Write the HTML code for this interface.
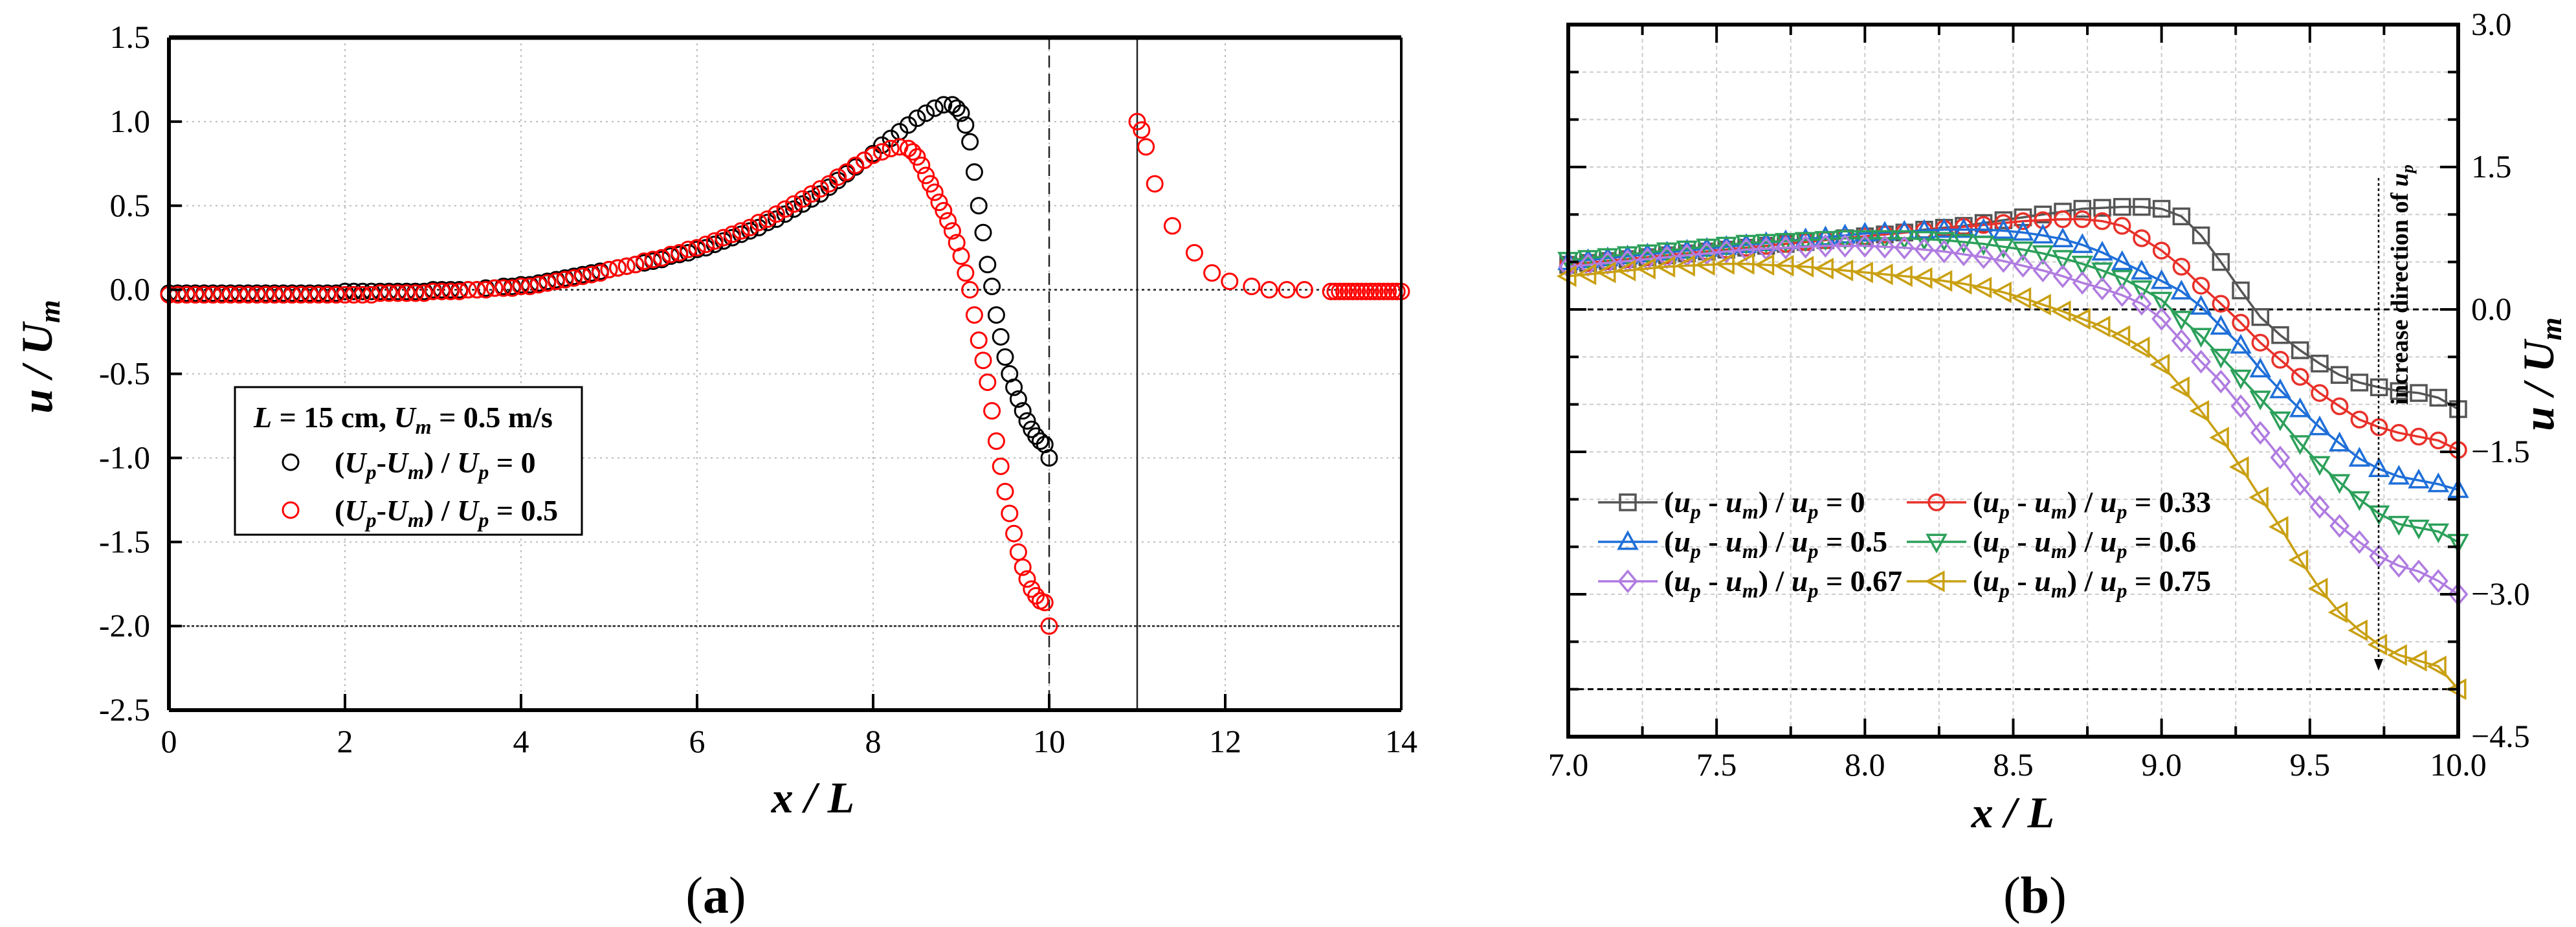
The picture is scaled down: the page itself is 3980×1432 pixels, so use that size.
<!DOCTYPE html>
<html><head><meta charset="utf-8"><style>
html,body{margin:0;padding:0;background:#fff;}
svg{display:block;font-family:"Liberation Serif",serif;}
</style></head><body>
<svg id="fig" width="3980" height="1432" viewBox="0 0 3980 1432" xmlns="http://www.w3.org/2000/svg">
<g id="pa"></g>
<g id="pb"></g>
</svg>
<script>
// ---------- Panel (a) data ----------
const aBlackX=[0,0.1,0.2,0.3,0.4,0.5,0.6,0.7,0.8,0.9,1,1.1,1.2,1.3,1.4,1.5,1.6,1.7,1.8,1.9,2,2.1,2.2,2.3,2.4,2.5,2.6,2.7,2.8,2.9,3,3.1,3.2,3.3,3.4,3.5,3.6,3.7,3.8,3.9,4,4.1,4.2,4.3,4.4,4.5,4.6,4.7,4.8,4.9,5,5.1,5.2,5.3,5.4,5.5,5.6,5.7,5.8,5.9,6,6.1,6.2,6.3,6.4,6.5,6.6,6.7,6.8,6.9,7,7.1,7.2,7.3,7.4,7.5,7.6,7.7,7.8,7.9,8,8.1,8.2,8.3,8.4,8.5,8.6,8.7,8.8,8.9,8.95,9,9.05,9.1,9.15,9.2,9.25,9.3,9.35,9.4,9.45,9.5,9.55,9.6,9.65,9.7,9.75,9.8,9.85,9.9,9.95,10];
const aBlackY=[-0.02,-0.02,-0.02,-0.02,-0.02,-0.02,-0.02,-0.02,-0.02,-0.02,-0.02,-0.02,-0.02,-0.02,-0.02,-0.02,-0.02,-0.02,-0.02,-0.02,-0.01,-0.01,-0.01,-0.01,-0.01,-0.01,-0.01,-0.01,-0.01,-0.01,0,0,0,0,0,0,0.01,0.01,0.02,0.02,0.03,0.03,0.04,0.05,0.06,0.07,0.08,0.09,0.1,0.11,0.12,0.13,0.14,0.15,0.16,0.17,0.18,0.2,0.21,0.22,0.24,0.25,0.27,0.29,0.31,0.33,0.35,0.37,0.4,0.42,0.45,0.48,0.51,0.54,0.57,0.61,0.65,0.69,0.73,0.77,0.81,0.86,0.9,0.94,0.98,1.02,1.05,1.08,1.1,1.1,1.08,1.05,0.98,0.88,0.7,0.5,0.34,0.15,0.02,-0.15,-0.28,-0.4,-0.5,-0.58,-0.65,-0.72,-0.78,-0.83,-0.87,-0.9,-0.92,-1.0];
const aRedX=[0,0.1,0.2,0.3,0.4,0.5,0.6,0.7,0.8,0.9,1,1.1,1.2,1.3,1.4,1.5,1.6,1.7,1.8,1.9,2,2.1,2.2,2.3,2.4,2.5,2.6,2.7,2.8,2.9,3,3.1,3.2,3.3,3.4,3.5,3.6,3.7,3.8,3.9,4,4.1,4.2,4.3,4.4,4.5,4.6,4.7,4.8,4.9,5,5.1,5.2,5.3,5.4,5.5,5.6,5.7,5.8,5.9,6,6.1,6.2,6.3,6.4,6.5,6.6,6.7,6.8,6.9,7,7.1,7.2,7.3,7.4,7.5,7.6,7.7,7.8,7.9,8,8.1,8.2,8.3,8.4,8.45,8.5,8.55,8.6,8.65,8.7,8.75,8.8,8.85,8.9,8.95,9,9.05,9.1,9.15,9.2,9.25,9.3,9.35,9.4,9.45,9.5,9.55,9.6,9.65,9.7,9.75,9.8,9.85,9.9,9.95,10,11,11.05,11.1,11.2,11.4,11.65,11.85,12.05,12.3,12.5,12.7,12.9,13.2,13.25,13.3,13.35,13.4,13.45,13.5,13.55,13.6,13.65,13.7,13.75,13.8,13.85,13.9,13.95,14];
const aRedY=[-0.03,-0.03,-0.03,-0.03,-0.03,-0.03,-0.03,-0.03,-0.03,-0.03,-0.03,-0.03,-0.03,-0.03,-0.03,-0.03,-0.03,-0.03,-0.03,-0.03,-0.03,-0.03,-0.03,-0.03,-0.02,-0.02,-0.02,-0.02,-0.02,-0.02,-0.01,-0.01,-0.01,-0.01,0,0,0,0.01,0.01,0.01,0.02,0.02,0.03,0.04,0.05,0.06,0.07,0.08,0.09,0.1,0.12,0.13,0.14,0.15,0.17,0.18,0.19,0.21,0.22,0.24,0.25,0.27,0.29,0.31,0.33,0.35,0.37,0.4,0.42,0.45,0.48,0.51,0.54,0.57,0.6,0.63,0.67,0.7,0.74,0.77,0.8,0.82,0.84,0.85,0.84,0.82,0.79,0.74,0.68,0.63,0.58,0.52,0.47,0.41,0.35,0.28,0.2,0.1,0.0,-0.15,-0.3,-0.42,-0.55,-0.72,-0.9,-1.05,-1.2,-1.33,-1.45,-1.56,-1.65,-1.72,-1.78,-1.82,-1.85,-1.86,-2.0,1.0,0.95,0.85,0.63,0.38,0.22,0.1,0.05,0.02,0.0,0.0,0.0,-0.01,-0.01,-0.01,-0.01,-0.01,-0.01,-0.01,-0.01,-0.01,-0.01,-0.01,-0.01,-0.01,-0.01,-0.01,-0.01,-0.01];
const aXTicks=[0,2,4,6,8,10,12,14];
const aXTickLabels=["0","2","4","6","8","10","12","14"];
const aYTicks=[1.5,1.0,0.5,0.0,-0.5,-1.0,-1.5,-2.0,-2.5];
const aYTickLabels=["1.5","1.0","0.5","0.0","-0.5","-1.0","-1.5","-2.0","-2.5"];

// ---------- Panel (b) data ----------
const bX=[7,7.067,7.133,7.2,7.267,7.333,7.4,7.467,7.533,7.6,7.667,7.733,7.8,7.867,7.933,8,8.067,8.133,8.2,8.267,8.333,8.4,8.467,8.533,8.6,8.667,8.733,8.8,8.867,8.933,9,9.067,9.133,9.2,9.267,9.333,9.4,9.467,9.533,9.6,9.667,9.733,9.8,9.867,9.933,10];
const bS0=[0.47,0.49,0.51,0.53,0.55,0.57,0.59,0.61,0.63,0.65,0.67,0.69,0.71,0.73,0.75,0.77,0.79,0.81,0.84,0.86,0.88,0.91,0.94,0.97,1.0,1.03,1.06,1.07,1.08,1.08,1.06,0.98,0.78,0.5,0.2,-0.08,-0.27,-0.43,-0.57,-0.69,-0.77,-0.82,-0.86,-0.88,-0.93,-1.05];
const bS1=[0.47,0.49,0.51,0.53,0.55,0.57,0.59,0.61,0.63,0.65,0.67,0.69,0.71,0.73,0.75,0.77,0.79,0.81,0.83,0.85,0.87,0.89,0.91,0.93,0.94,0.95,0.95,0.93,0.88,0.75,0.62,0.45,0.25,0.06,-0.14,-0.35,-0.53,-0.71,-0.88,-1.02,-1.16,-1.24,-1.3,-1.34,-1.38,-1.48];
const bS2=[0.5,0.52,0.54,0.56,0.58,0.6,0.62,0.64,0.66,0.68,0.7,0.72,0.74,0.76,0.78,0.8,0.81,0.82,0.83,0.84,0.84,0.84,0.83,0.81,0.78,0.74,0.68,0.6,0.5,0.4,0.3,0.19,0.03,-0.18,-0.38,-0.63,-0.85,-1.05,-1.24,-1.41,-1.57,-1.68,-1.76,-1.8,-1.84,-1.9];
const bS3=[0.52,0.54,0.56,0.58,0.6,0.62,0.64,0.66,0.68,0.7,0.71,0.72,0.73,0.74,0.75,0.75,0.75,0.75,0.74,0.73,0.71,0.69,0.66,0.63,0.59,0.54,0.48,0.41,0.33,0.22,0.1,-0.1,-0.28,-0.5,-0.72,-0.94,-1.16,-1.41,-1.63,-1.82,-2.0,-2.15,-2.26,-2.3,-2.34,-2.45];
const bS4=[0.45,0.47,0.49,0.51,0.53,0.55,0.57,0.59,0.61,0.63,0.64,0.65,0.66,0.67,0.67,0.67,0.66,0.65,0.63,0.61,0.58,0.55,0.51,0.46,0.41,0.35,0.28,0.22,0.15,0.06,-0.1,-0.33,-0.55,-0.76,-1.02,-1.3,-1.56,-1.84,-2.08,-2.28,-2.45,-2.6,-2.7,-2.76,-2.86,-3.0];
const bS5=[0.35,0.37,0.39,0.41,0.43,0.45,0.46,0.47,0.48,0.48,0.47,0.46,0.45,0.43,0.41,0.39,0.37,0.35,0.33,0.3,0.27,0.23,0.18,0.12,0.05,-0.02,-0.1,-0.18,-0.28,-0.4,-0.58,-0.82,-1.07,-1.35,-1.66,-1.98,-2.29,-2.64,-2.94,-3.19,-3.38,-3.53,-3.64,-3.7,-3.76,-4.0];
const bRatios=["0","0.33","0.5","0.6","0.67","0.75"];
const bXTicks=[7.0,7.5,8.0,8.5,9.0,9.5,10.0];
const bXTickLabels=["7.0","7.5","8.0","8.5","9.0","9.5","10.0"];
const bYTicks=[3.0,1.5,0.0,-1.5,-3.0,-4.5];
const bYTickLabels=["3.0","1.5","0.0","\u22121.5","\u22123.0","\u22124.5"];

const NS="http://www.w3.org/2000/svg";
function mk(parent,tag,attrs){const e=document.createElementNS(NS,tag);for(const k in attrs)e.setAttribute(k,attrs[k]);parent.appendChild(e);return e;}

// ---------- Panel (a) ----------
const pa=document.getElementById('pa');
const aL=261,aR=2165,aT=58,aB=1097;
const ax=v=>aL+(v-0)/14*(aR-aL);
const ay=v=>aT+(1.5-v)/4*(aB-aT);
// grid
aXTicks.forEach(t=>{if(t>0&&t<14){const g=mk(pa,'line',{x1:ax(t),x2:ax(t),y1:aT,y2:aB,stroke:'#bbb','stroke-width':2,'stroke-dasharray':'3 6'});

}});
aYTicks.forEach(t=>{if(t<1.5&&t>-2.5){const g=mk(pa,'line',{x1:aL,x2:aR,y1:ay(t),y2:ay(t),stroke:'#bbb','stroke-width':2,'stroke-dasharray':'3 6'});

}});
// reference lines
[[0,'4 5'],[-2,'4 3']].forEach(r=>{const l=mk(pa,'line',{x1:aL,x2:aR,y1:ay(r[0]),y2:ay(r[0]),stroke:'#222','stroke-width':2.5,'stroke-dasharray':r[1]});

});
let vl=mk(pa,'line',{x1:ax(10),x2:ax(10),y1:aT,y2:aB,stroke:'#222','stroke-width':2.5,'stroke-dasharray':'18 10'});


let vs=mk(pa,'line',{x1:ax(11),x2:ax(11),y1:aT,y2:aB,stroke:'#222','stroke-width':2.5});


// series
function circles(xs,ys,col,name){const g=mk(pa,'g',{});


xs.forEach((x,i)=>{const c=mk(g,'circle',{cx:ax(x),cy:ay(ys[i]),r:12,fill:'none',stroke:col,'stroke-width':3});

});}
circles(aBlackX,aBlackY,'#000','series-black-0');
circles(aRedX,aRedY,'#f00','series-red-0-5');
// axes frame
mk(pa,'line',{x1:aL,x2:aR,y1:aT,y2:aT,stroke:'#000','stroke-width':7});
mk(pa,'line',{x1:aR,x2:aR,y1:aT,y2:aB,stroke:'#000','stroke-width':4});
mk(pa,'line',{x1:aL,x2:aR,y1:aB,y2:aB,stroke:'#000','stroke-width':6});
mk(pa,'line',{x1:aL,x2:aL,y1:aT,y2:aB,stroke:'#000','stroke-width':6});
aXTicks.forEach((t,i)=>{mk(pa,'line',{x1:ax(t),x2:ax(t),y1:aB,y2:aB-25,stroke:'#000','stroke-width':4});
const tx=mk(pa,'text',{x:ax(t),y:1162,'font-size':50,'text-anchor':'middle'});tx.textContent=aXTickLabels[i];

});
aYTicks.forEach((t,i)=>{mk(pa,'line',{x1:aL,x2:aL+20,y1:ay(t),y2:ay(t),stroke:'#000','stroke-width':4});
const tx=mk(pa,'text',{x:232,y:ay(t)+16,'font-size':50,'text-anchor':'end'});tx.textContent=aYTickLabels[i];

});
</script>
<script>
// ---------- Panel (b) ----------
const pb=document.getElementById('pb');
const bL=2423,bR=3798,bT=38,bB=1138;
const bx=v=>bL+(v-7)/3*(bR-bL);
const by=v=>bT+(3-v)/7.5*(bB-bT);
for(let k=1;k<12;k++){const v=7+k*0.25;const g=mk(pb,'line',{x1:bx(v),x2:bx(v),y1:bT,y2:bB,stroke:'#ccc','stroke-width':2,'stroke-dasharray':'6 5'});

}
for(let k=1;k<15;k++){const v=3-k*0.5;const g=mk(pb,'line',{x1:bL,x2:bR,y1:by(v),y2:by(v),stroke:'#ccc','stroke-width':2,'stroke-dasharray':'6 5'});

}
[0,-4].forEach(v=>{const l=mk(pb,'line',{x1:bL,x2:bR,y1:by(v),y2:by(v),stroke:'#000','stroke-width':3,'stroke-dasharray':'9 6'});

});
const colors=['#555555','#e8312a','#1f6fd8','#2ca05a','#b07ce0','#c9a012'];
const shapes=['square','circle','up','down','diamond','left'];
const allS=[bS0,bS1,bS2,bS3,bS4,bS5];
function marker(g,shape,cx,cy,col){const s=12;let e;
if(shape==='square')e=mk(g,'rect',{x:cx-s,y:cy-s,width:2*s,height:2*s});
else if(shape==='circle')e=mk(g,'circle',{cx:cx,cy:cy,r:s});
else{let p;if(shape==='up')p=[[cx,cy-s*1.2],[cx+s*1.15,cy+s*0.9],[cx-s*1.15,cy+s*0.9]];
else if(shape==='down')p=[[cx,cy+s*1.2],[cx+s*1.15,cy-s*0.9],[cx-s*1.15,cy-s*0.9]];
else if(shape==='diamond')p=[[cx,cy-s*1.3],[cx+s*1.1,cy],[cx,cy+s*1.3],[cx-s*1.1,cy]];
else p=[[cx-s*1.2,cy],[cx+s*0.9,cy-s*1.15],[cx+s*0.9,cy+s*1.15]];
e=mk(g,'polygon',{points:p.map(q=>q.join(',')).join(' ')});}
e.setAttribute('fill','none');e.setAttribute('stroke',col);e.setAttribute('stroke-width',3.5);


return e;}
allS.forEach((s,si)=>{const g=mk(pb,'g',{});


const pl=mk(g,'polyline',{points:bX.map((x,i)=>bx(x)+','+by(s[i])).join(' '),fill:'none',stroke:colors[si],'stroke-width':3.5});


bX.forEach((x,i)=>marker(g,shapes[si],bx(x),by(s[i]),colors[si]));});
// frame
const fr=mk(pb,'rect',{x:bL,y:bT,width:bR-bL,height:bB-bT,fill:'none',stroke:'#000','stroke-width':6});


for(let k=0;k<=12;k++){const v=7+k*0.25,len=k%2===0?28:16;
mk(pb,'line',{x1:bx(v),x2:bx(v),y1:bB,y2:bB-len,stroke:'#000','stroke-width':4});
mk(pb,'line',{x1:bx(v),x2:bx(v),y1:bT,y2:bT+len,stroke:'#000','stroke-width':4});}
for(let k=0;k<=15;k++){const v=3-k*0.5,len=k%3===0?28:16;
mk(pb,'line',{x1:bL,x2:bL+len,y1:by(v),y2:by(v),stroke:'#000','stroke-width':4});
mk(pb,'line',{x1:bR,x2:bR-len,y1:by(v),y2:by(v),stroke:'#000','stroke-width':4});}
bXTicks.forEach((t,i)=>{const tx=mk(pb,'text',{x:bx(t),y:1198,'font-size':50,'text-anchor':'middle'});tx.textContent=bXTickLabels[i];

});
bYTicks.forEach((t,i)=>{const tx=mk(pb,'text',{x:3818,y:by(t)+16,'font-size':50});tx.textContent=bYTickLabels[i];

});
// legend b
const legPos=[[2469,776],[2946,776],[2469,837],[2946,837],[2469,898],[2946,898]];
bRatios.forEach((r,i)=>{const g=mk(pb,'g',{});


const [lx,ly]=legPos[i];
mk(g,'line',{x1:lx,x2:lx+92,y1:ly,y2:ly,stroke:colors[i],'stroke-width':3.5});
marker(g,shapes[i],lx+46,ly,colors[i]);
const t=mk(g,'text',{x:lx+102,y:ly+15,'font-size':46,'font-weight':'bold'});
t.innerHTML='(<tspan font-style="italic">u</tspan><tspan font-size="32" dy="10" font-style="italic">p</tspan><tspan dy="-10"> - </tspan><tspan font-style="italic">u</tspan><tspan font-size="32" dy="10" font-style="italic">m</tspan><tspan dy="-10">) / </tspan><tspan font-style="italic">u</tspan><tspan font-size="32" dy="10" font-style="italic">p</tspan><tspan dy="-10"> = '+r+'</tspan>';});
</script>
<svg style="position:absolute;left:0;top:0" width="3980" height="1432" viewBox="0 0 3980 1432" xmlns="http://www.w3.org/2000/svg" font-family="Liberation Serif, serif">
  <!-- panel a labels -->
  <text x="80" y="551" font-size="68" font-weight="bold" font-style="italic" text-anchor="middle" transform="rotate(-90 80 551)">u / U<tspan font-size="46" dy="12">m</tspan></text>
  <text x="1256" y="1255" font-size="68" font-weight="bold" font-style="italic" text-anchor="middle">x / L</text>
  <text x="1106" y="1410" font-size="80" text-anchor="middle">(<tspan font-weight="bold">a</tspan>)</text>
  <g>
    <rect x="363" y="598" width="536" height="228" fill="#fff" stroke="#000" stroke-width="3"/>
    <text x="392" y="660" font-size="46" font-weight="bold"><tspan font-style="italic">L</tspan> = 15 cm, <tspan font-style="italic">U</tspan><tspan font-size="32" dy="10" font-style="italic">m</tspan><tspan dy="-10"> = 0.5 m/s</tspan></text>
    <circle cx="449" cy="714" r="12" fill="none" stroke="#000" stroke-width="3"/>
    <text x="517" y="730" font-size="46" font-weight="bold">(<tspan font-style="italic">U</tspan><tspan font-size="32" dy="10" font-style="italic">p</tspan><tspan dy="-10">-</tspan><tspan font-style="italic">U</tspan><tspan font-size="32" dy="10" font-style="italic">m</tspan><tspan dy="-10">) / </tspan><tspan font-style="italic">U</tspan><tspan font-size="32" dy="10" font-style="italic">p</tspan><tspan dy="-10"> = 0</tspan></text>
    <circle cx="449" cy="788" r="12" fill="none" stroke="#f00" stroke-width="3"/>
    <text x="517" y="804" font-size="46" font-weight="bold">(<tspan font-style="italic">U</tspan><tspan font-size="32" dy="10" font-style="italic">p</tspan><tspan dy="-10">-</tspan><tspan font-style="italic">U</tspan><tspan font-size="32" dy="10" font-style="italic">m</tspan><tspan dy="-10">) / </tspan><tspan font-style="italic">U</tspan><tspan font-size="32" dy="10" font-style="italic">p</tspan><tspan dy="-10"> = 0.5</tspan></text>
  </g>
  <!-- panel b labels -->
  <text x="3945" y="578" font-size="68" font-weight="bold" font-style="italic" text-anchor="middle" transform="rotate(-90 3945 578)">u / U<tspan font-size="46" dy="12">m</tspan></text>
  <text x="3110" y="1278" font-size="68" font-weight="bold" font-style="italic" text-anchor="middle">x / L</text>
  <text x="3144" y="1410" font-size="80" text-anchor="middle">(<tspan font-weight="bold">b</tspan>)</text>
  <g>
    <line x1="3675" y1="275" x2="3675" y2="1020" stroke="#000" stroke-width="2.5" stroke-dasharray="4 4"/>
    <polygon points="3668,1018 3682,1018 3675,1036" fill="#000"/>
    <text x="3720" y="440" font-size="38" font-weight="bold" text-anchor="middle" transform="rotate(-90 3720 440)">increase direction of <tspan font-style="italic">u</tspan><tspan font-size="26" dy="8" font-style="italic">p</tspan></text>
  </g>
</svg>
</body></html>
